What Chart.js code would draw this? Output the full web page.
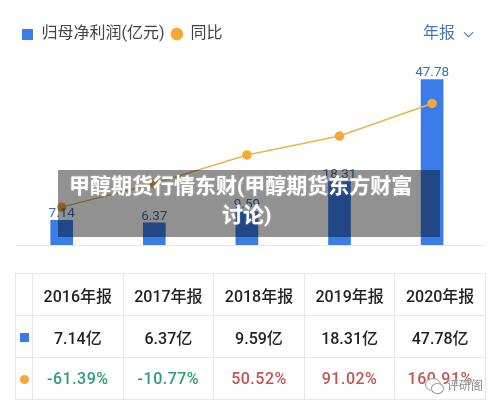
<!DOCTYPE html>
<html lang="zh">
<head>
<meta charset="utf-8">
<script src="https://cdn.jsdelivr.net/npm/chart.js@4"></script>
<style>
  html,body{margin:0;padding:0;background:#fff;width:500px;height:408px;overflow:hidden;font-family:Roboto,"Noto Sans CJK SC",sans-serif}
  #wrap{position:absolute;left:0;top:0;width:500px;height:408px;filter:blur(.45px)}
  #chart{position:absolute;left:0;top:0}
  #base{position:absolute;left:15px;width:470px;top:245px;height:1px;background:#e4e8ee}
  #period{position:absolute;left:423px;top:22px;font-size:16px;line-height:22px;color:#4a78b0}
  #chev{position:absolute;left:465px;top:29px;width:6px;height:6px;border-right:1.2px solid #4a78b0;border-bottom:1.2px solid #4a78b0;transform:rotate(45deg) scale(1,1)}
  table{position:absolute;left:15px;top:273px;border-collapse:collapse;table-layout:fixed;width:471px;height:124px}
  td{border:1px solid #e8e8e8;text-align:center;padding:0;font-size:16px;font-weight:500;color:#222;height:41px}
  td:first-child{width:16px}
  .sq{display:inline-block;width:9px;height:9px;background:#3b7de8;vertical-align:middle}
  .dot{display:inline-block;width:9px;height:9px;border-radius:50%;background:#f5a833;vertical-align:middle}
  .up{color:#bf5455;letter-spacing:.5px}.down{color:#2f9e78;letter-spacing:.5px}
  #band{position:absolute;left:58px;top:170px;width:382px;height:67px;background:rgba(0,0,0,.43)}
  .t{position:absolute;font-size:21px;line-height:29px;font-weight:700;color:#fff;white-space:nowrap;text-shadow:0 0 2px rgba(255,255,255,.4)}
  #wm{position:absolute;left:447px;top:378px;font-size:12px;line-height:16px;color:#8a8a8a;text-shadow:0 0 2px #fff,0 0 2px #fff}
  #wmi{position:absolute;left:425px;top:378px;width:14px;height:11px;border:1px solid #999;border-radius:50%;background:#fff}
  #wmi2{position:absolute;left:431px;top:383px;width:11px;height:9px;border:1px solid #999;border-radius:50%;background:#fff}
</style>
</head>
<body>
<div id="wrap">
  <div id="base"></div>
  <canvas id="chart" width="500" height="408"></canvas>
  <div id="period">年报</div><div id="chev"></div>
  <table id="tbl"></table>
  <div id="wmi"></div><div id="wmi2"></div><div id="wm">评研阁</div>
  <div id="band"></div>
  <div class="t" style="left:69px;top:172px">甲醇期货行情东财(甲醇期货东方财富</div>
  <div class="t" style="left:222px;top:201px">讨论)</div>
</div>
<script>
const categories = ["2016年报","2017年报","2018年报","2019年报","2020年报"];
const profit = [7.14,6.37,9.59,18.31,47.78];
const growth = [-61.39,-10.77,50.52,91.02,160.91];
const seriesNames = ["归母净利润(亿元)","同比"];

const valueLabels = {
  id:'valueLabels',
  afterDatasetsDraw(c){
    const m=c.getDatasetMeta(0), x=c.ctx;
    x.save();
    x.font='13.5px Roboto';x.fillStyle='#3f6ea8';x.textAlign='center';x.textBaseline='bottom';
    m.data.forEach((b,i)=>x.fillText(profit[i].toFixed(2),b.x,b.y));
    x.restore();
  }
};

// solid square used as the legend marker of the bar series
const legendSquare=document.createElement('canvas');
legendSquare.width=11;legendSquare.height=11;
const sctx=legendSquare.getContext('2d');sctx.fillStyle='#3b7de8';sctx.fillRect(0,0,11,11);

new Chart(document.getElementById('chart'),{
  data:{labels:categories,datasets:[
    {type:'bar',label:seriesNames[0],data:profit,yAxisID:'y',backgroundColor:'#3b7de8',barThickness:22,order:2,pointStyle:legendSquare},
    {type:'line',label:seriesNames[1],data:growth,yAxisID:'y1',borderColor:'#e8b64c',borderWidth:1.5,backgroundColor:'#f5a833',pointBackgroundColor:'#f5a833',pointBorderColor:'#f5a833',pointRadius:4,tension:0,order:1,pointStyle:'circle'}
  ]},
  options:{
    responsive:false,animation:false,
    layout:{padding:{left:15.4,right:21.6,top:19,bottom:163}},
    plugins:{
      tooltip:{enabled:false},
      legend:{display:true,position:'top',align:'start',
        labels:{usePointStyle:true,pointStyleWidth:11,boxHeight:7.8,padding:7,color:'#444',
          sort:(a,b)=>a.datasetIndex-b.datasetIndex,
          font:{size:16,family:'Roboto,"Noto Sans CJK SC"'}}}
    },
    scales:{
      x:{display:false},
      y:{display:false,min:0,max:55.76},
      y1:{display:false,min:-142.6,max:271.3}
    }
  },
  plugins:[valueLabels]
});

const tbl=document.getElementById('tbl');
let h='<tr><td></td>'+categories.map(c=>`<td>${c}</td>`).join('')+'</tr>';
h+='<tr><td><span class="sq"></span></td>'+profit.map(v=>`<td>${v.toFixed(2)}亿</td>`).join('')+'</tr>';
h+='<tr><td><span class="dot"></span></td>'+growth.map(v=>`<td class="${v<0?'down':'up'}">${v.toFixed(2)}%</td>`).join('')+'</tr>';
tbl.innerHTML=h;
</script>
</body>
</html>
